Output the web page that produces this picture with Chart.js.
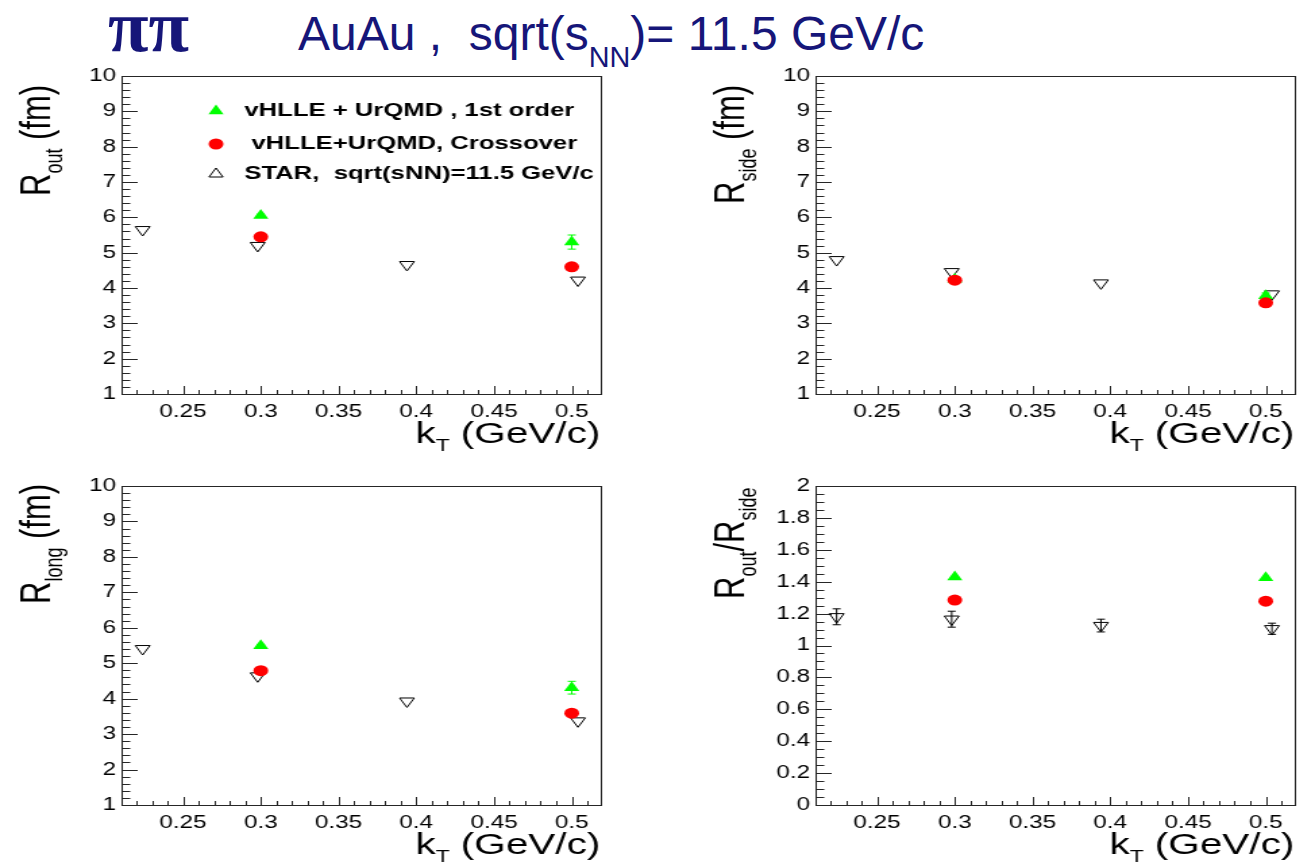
<!DOCTYPE html>
<html>
<head>
<meta charset="utf-8">
<script src="https://cdn.jsdelivr.net/npm/chart.js@4/dist/chart.umd.min.js"></script>
<style>
  html, body { margin: 0; padding: 0; background: #fff; overflow: hidden; }
  body { width: 1303px; height: 862px; position: relative; }
  .pad { position: absolute; transform: scaleX(1.35); transform-origin: 0 0; }
  .pad canvas { display: block; }
  .head { position: absolute; color: #161679; white-space: pre; line-height: 1; }
  #pipi { left: 108px; top: -16px; font: bold 74px 'Liberation Serif', 'Times New Roman', serif; }
  #sys { left: 298px; top: 6px; font: 48px 'Liberation Sans', Arial, sans-serif; }
  #sys sub { font-size: 0.6em; vertical-align: -0.6em; line-height: 0; }
</style>
</head>
<body>
<div class="head" id="pipi">ππ</div>
<div class="head" id="sys">AuAu ,  sqrt(s<sub>NN</sub>)= 11.5 GeV/c</div>

<div class="pad" style="left:0px;top:51px"><canvas id="rout" width="452" height="415"></canvas></div>
<div class="pad" style="left:694px;top:51px"><canvas id="rside" width="452" height="415"></canvas></div>
<div class="pad" style="left:0px;top:461px"><canvas id="rlong" width="452" height="415"></canvas></div>
<div class="pad" style="left:694px;top:461px"><canvas id="ratio" width="452" height="415"></canvas></div>

<script>
// pair transverse momentum, GeV/c
const kTModel = [0.3, 0.5];
const kTStar = [0.224, 0.298, 0.394, 0.504];
const kTTicks = [0.25, 0.3, 0.35, 0.4, 0.45, 0.5];
const radiusTicks = [1, 2, 3, 4, 5, 6, 7, 8, 9, 10];
const ratioTicks = [0, 0.2, 0.4, 0.6, 0.8, 1, 1.2, 1.4, 1.6, 1.8, 2];

// R_out (fm)
const routFirst = [6.05, 5.30];
const routFirstErr = [0.04, 0.2];
const routCross = [5.45, 4.60];
const routCrossErr = [0.05, 0.1];
const routStar = [5.65, 5.20, 4.66, 4.22];

// R_side (fm)
const rsideFirst = [4.25, 3.78];
const rsideFirstErr = [0.03, 0.08];
const rsideCross = [4.22, 3.58];
const rsideCrossErr = [0.04, 0.05];
const rsideStar = [4.80, 4.46, 4.14, 3.83];

// R_long (fm)
const rlongFirst = [5.49, 4.31];
const rlongFirstErr = [0.04, 0.18];
const rlongCross = [4.79, 3.59];
const rlongCrossErr = [0.05, 0.08];
const rlongStar = [5.41, 4.64, 3.93, 3.37];

// R_out / R_side
const ratioFirst = [1.43, 1.425];
const ratioCross = [1.285, 1.278];
const ratioStar = [1.18, 1.165, 1.125, 1.105];
const ratioStarErr = [0.05, 0.05, 0.04, 0.035];

const legendLabels = ['vHLLE + UrQMD , 1st order', ' vHLLE+UrQMD, Crossover', 'STAR,  sqrt(sNN)=11.5 GeV/c'];

const FONT = "'Liberation Sans', Arial, Helvetica, sans-serif";
const GREEN = '#00ff00', RED = '#ff0000';

const pts = (xs, ys) => xs.map((x, i) => ({ x, y: ys[i] }));
const fmt = v => String(+v.toFixed(2));

function drawRich(ctx, parts, x, y, size) {
  let cx = x;
  for (const [t, sub] of parts) {
    ctx.font = (sub ? Math.round(size * 0.58) : size) + 'px ' + FONT;
    ctx.fillText(t, cx, y + (sub ? size * 0.28 : 0));
    cx += ctx.measureText(t).width;
  }
  return cx - x;
}

function richWidth(ctx, parts, size) {
  let w = 0;
  for (const [t, sub] of parts) {
    ctx.font = (sub ? Math.round(size * 0.58) : size) + 'px ' + FONT;
    w += ctx.measureText(t).width;
  }
  return w;
}

function marker(ctx, kind, x, y) {
  ctx.beginPath();
  if (kind === 'circle') {
    ctx.fillStyle = RED;
    ctx.arc(x, y, 5.5, 0, Math.PI * 2);
    ctx.fill();
  } else if (kind === 'up') {
    ctx.fillStyle = GREEN;
    ctx.moveTo(x, y - 6.5); ctx.lineTo(x + 5.6, y + 3.2); ctx.lineTo(x - 5.6, y + 3.2);
    ctx.closePath(); ctx.fill();
  } else {
    ctx.strokeStyle = '#000'; ctx.lineWidth = 1;
    ctx.moveTo(x, y - 6); ctx.lineTo(x + 5.2, y + 3); ctx.lineTo(x - 5.2, y + 3);
    ctx.closePath(); ctx.stroke();
  }
}

// ROOT-like frame: inward ticks, error bars, axis titles, legend
const rootStyle = {
  id: 'rootStyle',
  beforeDatasetsDraw(chart, args, opts) {
    const { ctx, chartArea: a, scales: { x, y } } = chart;
    ctx.save();
    ctx.strokeStyle = '#262626';
    ctx.lineWidth = 1;
    ctx.beginPath();
    for (let i = Math.ceil(x.min * 100); i <= Math.floor(x.max * 100); i++) {
      const px = Math.round(x.getPixelForValue(i / 100)) + 0.5;
      const len = i % 5 === 0 ? 8 : 4;
      ctx.moveTo(px, a.bottom); ctx.lineTo(px, a.bottom - len);
    }
    const n = Math.round((y.max - y.min) / opts.minorStep);
    for (let i = 0; i <= n; i++) {
      const py = Math.round(y.getPixelForValue(y.min + i * opts.minorStep)) + 0.5;
      const len = i % opts.perMajor === 0 ? 12 : 6.5;
      ctx.moveTo(a.left, py); ctx.lineTo(a.left + len, py);
    }
    ctx.stroke();
    ctx.strokeRect(Math.round(a.left) + 0.5, Math.round(a.top) + 0.5,
      Math.round(a.right - a.left), Math.round(a.bottom - a.top));

    chart.data.datasets.forEach(ds => {
      if (!ds.errors) return;
      ctx.strokeStyle = ds.barColor;
      ds.data.forEach((p, i) => {
        const e = ds.errors[i];
        if (!e) return;
        const px = x.getPixelForValue(p.x);
        const hi = y.getPixelForValue(p.y + e), lo = y.getPixelForValue(p.y - e);
        ctx.beginPath();
        ctx.moveTo(px, hi); ctx.lineTo(px, lo);
        ctx.moveTo(px - 3, hi); ctx.lineTo(px + 3, hi);
        ctx.moveTo(px - 3, lo); ctx.lineTo(px + 3, lo);
        ctx.stroke();
      });
    });
    ctx.restore();
  },
  afterDraw(chart, args, opts) {
    const { ctx, chartArea: a } = chart;
    ctx.save();
    ctx.fillStyle = '#000';
    ctx.textBaseline = 'alphabetic';
    const xParts = [['k'], ['T', true], [' (GeV/c)']];
    const w = richWidth(ctx, xParts, 30);
    drawRich(ctx, xParts, a.right - w, a.bottom + 49, 30);

    ctx.translate(37, a.top + opts.titleStart);
    ctx.rotate(-Math.PI / 2);
    drawRich(ctx, opts.yTitle, 0, 0, 31);
    ctx.restore();

    if (opts.legend) {
      ctx.save();
      const rows = [[60, 'up', 181], [93, 'circle', 181], [123, 'open', 181]];
      rows.forEach(([ry, kind, tx], i) => {
        marker(ctx, kind, 160, ry);
        ctx.fillStyle = '#000';
        ctx.font = 'bold 19px ' + FONT;
        ctx.textBaseline = 'middle';
        ctx.fillText(legendLabels[i], tx, ry);
      });
      ctx.restore();
    }
  }
};

function makePanel(id, p) {
  const area = { left: 90, right: 449, top: 25, bottom: p.bottom };
  const canvas = document.getElementById(id);
  return new Chart(canvas, {
    type: 'scatter',
    data: {
      datasets: [
        { label: 'vHLLE+UrQMD, Crossover', data: pts(kTModel, p.cross), errors: p.crossErr, barColor: RED,
          pointStyle: 'circle', pointRadius: 5.5, backgroundColor: RED, borderColor: RED, borderWidth: 0 },
        { label: 'vHLLE + UrQMD , 1st order', data: pts(kTModel, p.first), errors: p.firstErr, barColor: GREEN,
          pointStyle: 'triangle', pointRadius: 6.5, backgroundColor: GREEN, borderColor: GREEN, borderWidth: 0 },
        { label: 'STAR', data: pts(kTStar, p.star), errors: p.starErr, barColor: '#000',
          pointStyle: 'triangle', pointRotation: 180, pointRadius: 6.3,
          backgroundColor: 'rgba(0,0,0,0)', borderColor: '#000', borderWidth: 1 }
      ]
    },
    options: {
      responsive: false,
      animation: false,
      events: [],
      layout: { padding: { left: 0, top: area.top, right: canvas.width - area.right, bottom: 0 } },
      plugins: {
        legend: { display: false },
        tooltip: { enabled: false },
        rootStyle: { minorStep: p.minorStep, perMajor: p.perMajor, yTitle: p.yTitle,
                     titleStart: p.titleStart, legend: !!p.legend }
      },
      scales: {
        x: {
          type: 'linear', min: 0.2104, max: 0.5184,
          grid: { display: false, drawTicks: false }, border: { display: false },
          ticks: { color: '#000', font: { family: FONT, size: 18 }, padding: 7,
                   autoSkip: false, maxRotation: 0, callback: fmt },
          afterBuildTicks: ax => { ax.ticks = kTTicks.map(value => ({ value })); },
          afterFit: ax => { ax.height = canvas.height - area.bottom; ax.paddingLeft = 0; ax.paddingRight = 0; }
        },
        y: {
          type: 'linear', min: p.ticks[0], max: p.ticks[p.ticks.length - 1],
          grid: { display: false, drawTicks: false }, border: { display: false },
          ticks: { color: '#000', font: { family: FONT, size: 18 }, padding: 4,
                   autoSkip: false, callback: fmt },
          afterBuildTicks: ax => { ax.ticks = p.ticks.map(value => ({ value })); },
          afterFit: ax => { ax.width = area.left; ax.paddingTop = 0; ax.paddingBottom = 0; }
        }
      }
    },
    plugins: [rootStyle]
  });
}

makePanel('rout', {
  first: routFirst, firstErr: routFirstErr, cross: routCross, crossErr: routCrossErr, star: routStar,
  ticks: radiusTicks, minorStep: 0.2, perMajor: 5, bottom: 343,
  yTitle: [['R'], ['out', true], [' (fm)']], titleStart: 120, legend: true
});
makePanel('rside', {
  first: rsideFirst, firstErr: rsideFirstErr, cross: rsideCross, crossErr: rsideCrossErr, star: rsideStar,
  ticks: radiusTicks, minorStep: 0.2, perMajor: 5, bottom: 343,
  yTitle: [['R'], ['side', true], [' (fm)']], titleStart: 128
});
makePanel('rlong', {
  first: rlongFirst, firstErr: rlongFirstErr, cross: rlongCross, crossErr: rlongCrossErr, star: rlongStar,
  ticks: radiusTicks, minorStep: 0.2, perMajor: 5, bottom: 344,
  yTitle: [['R'], ['long', true], [' (fm)']], titleStart: 118
});
makePanel('ratio', {
  first: ratioFirst, cross: ratioCross, star: ratioStar, starErr: ratioStarErr,
  ticks: ratioTicks, minorStep: 0.05, perMajor: 4, bottom: 344,
  yTitle: [['R'], ['out', true], ['/R'], ['side', true]], titleStart: 113
});
</script>
</body>
</html>
